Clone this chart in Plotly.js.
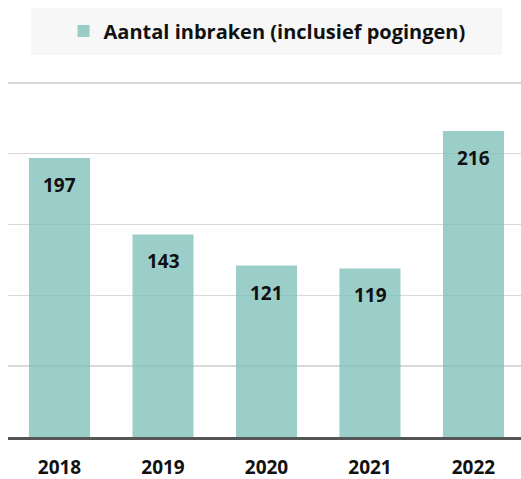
<!DOCTYPE html>
<html>
<head>
<meta charset="utf-8">
<script src="https://cdn.plot.ly/plotly-3.0.1.min.js"></script>
<style>
  html, body { margin: 0; padding: 0; background: #fff; }
  #chart { width: 521px; height: 479px; }
</style>
</head>
<body>
<div id="chart"></div>
<script>
// Aantal inbraken per jaar
var years = ["2018", "2019", "2020", "2021", "2022"];
var inbraken = [197, 143, 121, 119, 216];
var seriesName = "Aantal inbraken (inclusief pogingen)";

var font = "Open Sans, Noto Sans, sans-serif";

var trace = {
  x: years,
  y: inbraken,
  type: "bar",
  name: seriesName,
  marker: { color: "rgba(128,192,186,0.78)" },
  hoverinfo: "x+y"
};

// value labels just under the top of each bar (x by category index,
// numeric-looking year strings would be read as numbers)
var labels = years.map(function (yr, i) {
  return {
    x: i, y: inbraken[i], text: String(inbraken[i]),
    showarrow: false, yanchor: "middle", yshift: -27,
    font: { family: font, size: 19, color: "#111", weight: "bold" }
  };
});

var layout = {
  width: 521,
  height: 479,
  margin: { l: 8, r: 0, t: 80, b: 42 },
  paper_bgcolor: "#fff",
  plot_bgcolor: "#fff",
  bargap: 0.41,
  showlegend: true,
  legend: {
    orientation: "h",
    x: 0.505, xanchor: "center",
    y: 1.137, yanchor: "middle",
    itemwidth: 30,
    bgcolor: "rgba(0,0,0,0)",
    font: { family: font, size: 20, color: "#111", weight: "bold" }
  },
  shapes: [{
    type: "rect", xref: "paper", yref: "paper", layer: "below",
    x0: 0.0448, x1: 0.963, y0: 1.070, y1: 1.2017,
    fillcolor: "#f7f7f7", line: { width: 0 }
  }],
  xaxis: {
    type: "category",
    range: [-0.4976, 4.459],
    showgrid: false,
    showline: true, linecolor: "#555", linewidth: 3,
    ticks: "",
    ticklabelstandoff: 11,
    tickfont: { family: font, size: 19, color: "#111", weight: "bold" }
  },
  yaxis: {
    range: [0, 252],
    dtick: 50,
    showgrid: true, gridcolor: "#d9d9d9", gridwidth: 1.5,
    zeroline: false,
    showticklabels: false,
    ticks: ""
  },
  annotations: labels
};

Plotly.newPlot("chart", [trace], layout, { displayModeBar: false, staticPlot: true });
</script>
</body>
</html>
